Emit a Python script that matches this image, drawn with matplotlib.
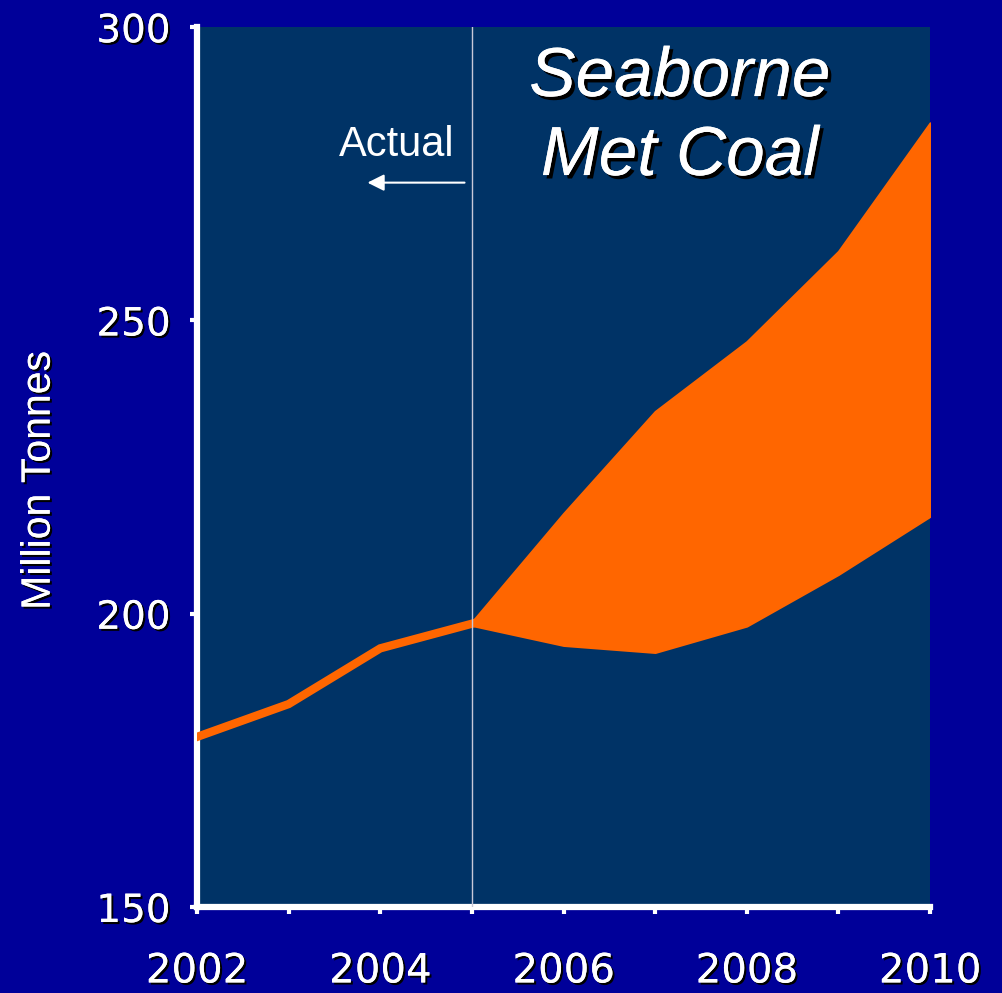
import matplotlib
matplotlib.use('Agg')
import matplotlib.pyplot as plt
import matplotlib.patheffects as pe

# values (million tonnes)
actual_years = [2002, 2003, 2004, 2005]
actual_vals = [179.0, 184.6, 194.1, 198.3]
fc_years = [2005, 2006, 2007, 2008, 2009, 2010]
fc_low = [198.0, 194.6, 193.4, 197.9, 206.7, 216.6]
fc_high = [198.6, 217.1, 234.5, 246.4, 261.8, 283.7]
year_ticks = [2002, 2003, 2004, 2005, 2006, 2007, 2008, 2009, 2010]
year_labels = ['2002', '', '2004', '', '2006', '', '2008', '', '2010']
y_ticks = [150, 200, 250, 300]

orange = '#ff6600'
fig = plt.figure(figsize=(10.02, 9.93), dpi=100, facecolor='#000099')
ax = fig.add_axes([0.1966, 0.0866, 0.7316, 0.886], facecolor='#003366')

ax.fill_between(fc_years, fc_low, fc_high, color=orange, lw=1.5,
                edgecolor=orange, joinstyle='round', zorder=3)
ax.plot(actual_years, actual_vals, color=orange, lw=6, solid_joinstyle='miter', zorder=4)
ax.axvline(2005, color='#c8c8d8', lw=1, zorder=5)

ax.annotate('', xy=(2003.83, 273.5), xytext=(2004.95, 273.5),
            arrowprops=dict(arrowstyle='-|>', color='white', lw=1.5,
                            mutation_scale=25))
ax.text(2004.18, 280.0, 'Actual', color='white', fontsize=30,
        family='Liberation Sans', ha='center', va='center')
shadow = [pe.withSimplePatchShadow(offset=(2.5, -2.5), shadow_rgbFace='black', alpha=1),
          pe.Normal()]
ax.text(2007.27, 284.6, 'Seaborne\nMet Coal', color='white', fontsize=50,
        family='Liberation Sans', style='italic', ha='center', va='center',
        linespacing=1.3, path_effects=shadow)

ax.set_xlim(2002, 2010)
ax.set_ylim(150, 300)
ax.set_xticks(year_ticks)
ax.set_xticklabels(year_labels)
ax.set_yticks(y_ticks)
for s in ['top', 'right']:
    ax.spines[s].set_visible(False)
for s in ['left', 'bottom']:
    ax.spines[s].set_color('white')
    ax.spines[s].set_linewidth(4.5)
ax.tick_params(colors='white', width=3, length=5)
ax.tick_params(axis='x', pad=27, labelsize=29)
ax.tick_params(axis='y', pad=14, labelsize=28)
small_shadow = [pe.withSimplePatchShadow(offset=(1.5, -1.5), shadow_rgbFace='black', alpha=1),
                pe.Normal()]
for lab in ax.get_xticklabels() + ax.get_yticklabels():
    lab.set_path_effects(small_shadow)
ax.set_ylabel('Million Tonnes', color='white', fontsize=29.5,
              family='Liberation Sans', path_effects=small_shadow)
ax.yaxis.set_label_coords(-0.19, 0.485)

fig.savefig('out.png', facecolor=fig.get_facecolor())
